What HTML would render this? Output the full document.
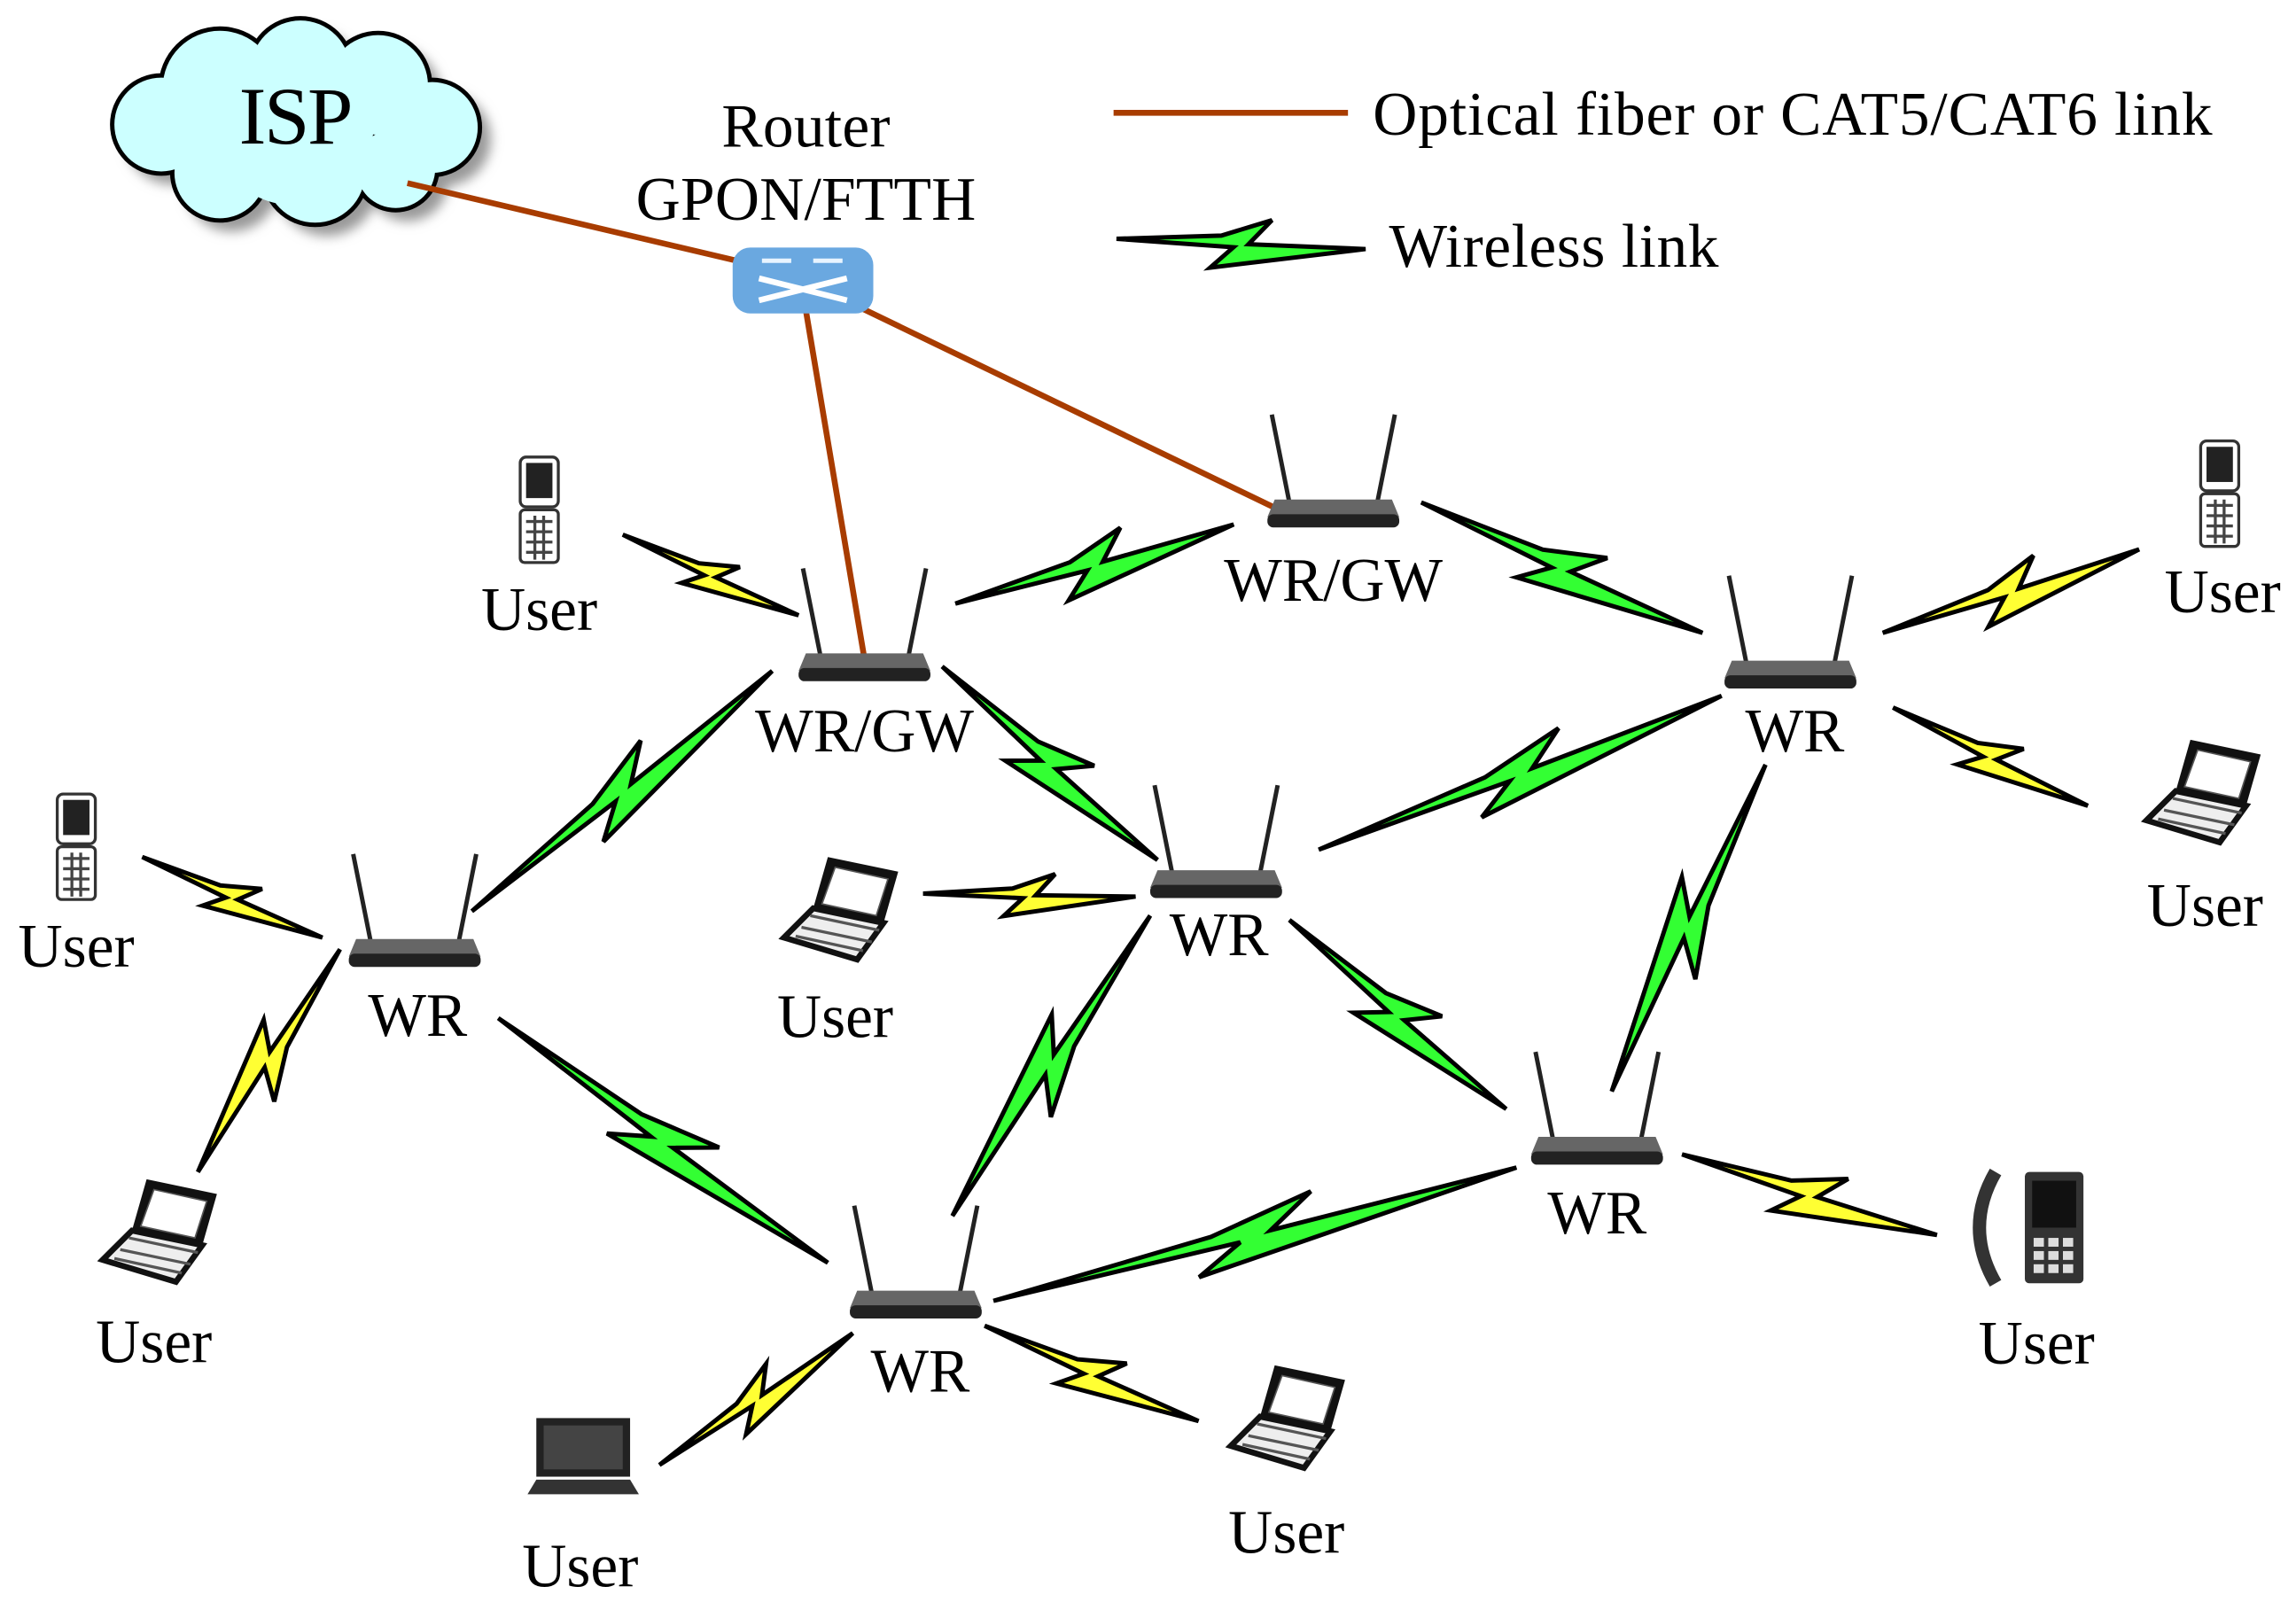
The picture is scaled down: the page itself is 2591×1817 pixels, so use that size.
<!DOCTYPE html>
<html><head><meta charset="utf-8"><style>
html,body{margin:0;padding:0;background:#fff;}
svg{display:block;}
text{font-family:"Liberation Serif","Times New Roman",serif;fill:#000;}
</style></head><body>
<svg id="s" width="2591" height="1817" viewBox="0 0 1567 1099" xmlns="http://www.w3.org/2000/svg" font-family="Liberation Serif, serif">
<defs>
<filter id="sh" x="-20%" y="-20%" width="150%" height="150%"><feGaussianBlur stdDeviation="4"/></filter>
<g id="rt">
 <line x1="-30" y1="-2" x2="-42" y2="-62" stroke="#222" stroke-width="3"/>
 <line x1="30" y1="-2" x2="42" y2="-62" stroke="#222" stroke-width="3"/>
 <path d="M-40,-4 L40,-4 L45,8 L-45,8 Z" fill="#666"/>
 <rect x="-45" y="6" width="90" height="9" rx="4" fill="#222"/>
</g>
<g id="phone">
 <rect x="-13" y="-36" width="26" height="34" rx="4" fill="#fff" stroke="#333" stroke-width="2"/>
 <rect x="-9" y="-32" width="18" height="24" fill="#222"/>
 <rect x="-13" y="0" width="26" height="36" rx="3" fill="#fff" stroke="#333" stroke-width="2"/>
 <path d="M-9,8h18M-9,15h18M-9,22h18M-9,29h18M-3,4v30M3,4v30" stroke="#444" stroke-width="2"/>
</g>
<g id="lap">
 <path d="M-10,-40 L38,-30 L28,5 L-20,-5 Z" fill="#111"/>
 <path d="M-5,-33 L31,-25 L23,0 L-14,-8 Z" fill="#fff" stroke="#555"/>
 <path d="M-20,-5 L28,5 L10,30 L-40,15 Z" fill="#eee" stroke="#111" stroke-width="4"/>
 <path d="M-28,8 L20,18 M-22,0 L25,10 M-32,14 L14,24" stroke="#555" stroke-width="2"/>
</g>
</defs>
<g id="cloud">
 <g filter="url(#sh)" transform="translate(8,8)" fill="#999">
  <circle cx="110" cy="85" r="33"/><circle cx="150" cy="60" r="40"/><circle cx="205" cy="48" r="35"/><circle cx="258" cy="58" r="35"/><circle cx="295" cy="87" r="32"/><circle cx="270" cy="115" r="28"/><circle cx="215" cy="118" r="35"/><circle cx="150" cy="118" r="32"/><circle cx="200" cy="85" r="50"/>
 </g>
 <g fill="#000">
  <circle cx="110" cy="85" r="35"/><circle cx="150" cy="60" r="42"/><circle cx="205" cy="48" r="37"/><circle cx="258" cy="58" r="37"/><circle cx="295" cy="87" r="34"/><circle cx="270" cy="115" r="30"/><circle cx="215" cy="118" r="37"/><circle cx="150" cy="118" r="34"/>
 </g>
 <g fill="#ccffff">
  <circle cx="110" cy="85" r="32"/><circle cx="150" cy="60" r="39"/><circle cx="205" cy="48" r="34"/><circle cx="258" cy="58" r="34"/><circle cx="295" cy="87" r="31"/><circle cx="270" cy="115" r="27"/><circle cx="215" cy="118" r="34"/><circle cx="150" cy="118" r="31"/><circle cx="200" cy="85" r="55"/>
 </g>
 <text x="202" y="98" font-size="56" text-anchor="middle" textLength="78">ISP</text>
</g>
<g stroke="#a83c00" stroke-width="4" fill="none">
 <line x1="278" y1="125" x2="503" y2="178"/>
 <line x1="550" y1="212" x2="590" y2="450"/>
 <line x1="583" y1="208" x2="873" y2="348"/>
 <line x1="760" y1="77" x2="920" y2="77"/>
</g>
<rect x="500" y="169" width="96" height="45" rx="12" fill="#6aa8e0"/>
<path d="M518,190 L578,205 M518,205 L578,190" stroke="#fff" stroke-width="4"/>
<path d="M520,178h20M555,178h20" stroke="#e8f4ff" stroke-width="3"/>
<text x="550" y="100" font-size="42" text-anchor="middle" textLength="115">Router</text>
<text x="550" y="150" font-size="42" text-anchor="middle" textLength="232">GPON/FTTH</text>
<text x="937" y="92" font-size="42" textLength="573">Optical fiber or CAT5/CAT6 link</text>
<text x="948" y="182" font-size="42" textLength="225">Wireless link</text>
<g id="bolts"></g>
<g id="nodes"></g>
</svg>
<script>
var B=[["g",762,163,932,170],["g",652,412,842,358],["g",970,343,1162,432],["g",322,622,527,458],["g",643,455,790,587],["g",900,580,1175,475],["g",1205,522,1100,745],["g",880,628,1028,757],["g",340,695,565,862],["g",785,625,650,830],["g",678,888,1035,797],
["y",425,365,545,420],["y",1285,432,1460,375],["y",1292,483,1425,550],["y",97,585,220,640],["y",630,610,775,612],["y",232,648,135,800],["y",1148,788,1322,843],["y",450,1000,582,910],["y",672,905,818,970]];
var P=[[0,0],[0.42,-0.03],[0.62,-0.1],[0.53,0.0],[1,0],[0.38,0.1],[0.47,0.015]];
var h="";
B.forEach(function(b){var dx=b[3]-b[1],dy=b[4]-b[2];var L=Math.hypot(dx,dy);var ux=dx/L,uy=dy/L,vx=-uy,vy=ux;var s=Math.min(L,190);
var pts=P.map(function(p){var u=p[0]*L,v=p[1]*s;return (b[1]+ux*u+vx*v).toFixed(1)+","+(b[2]+uy*u+vy*v).toFixed(1);}).join(" ");
h+='<polygon points="'+pts+'" fill="'+(b[0]=="g"?"#33ff33":"#ffff33")+'" stroke="#000" stroke-width="3" stroke-linejoin="miter"/>';});
document.getElementById("bolts").innerHTML=h;
var R=[[590,450,"WR/GW",590,513],[910,345,"WR/GW",910,410],[1222,455,"WR",1225,513],[830,598,"WR",832,652],[283,645,"WR",285,707],[1090,780,"WR",1090,842],[625,885,"WR",628,950]];
var n="";
R.forEach(function(r){n+='<use href="#rt" x="'+r[0]+'" y="'+r[1]+'"/><text x="'+r[3]+'" y="'+r[4]+'" font-size="42" text-anchor="middle">'+r[2]+'</text>';});
var U=[["phone",368,348,368,430],["phone",1515,337,1517,418],["phone",52,578,52,660],["lap",575,625,570,708],["lap",1505,545,1505,632],["lap",110,845,105,930],["lap",880,972,878,1060]];
U.forEach(function(u){n+='<use href="#'+u[0]+'" x="'+u[1]+'" y="'+u[2]+'"/><text x="'+u[3]+'" y="'+u[4]+'" font-size="42" text-anchor="middle">User</text>';});
n+='<rect x="366" y="968" width="64" height="40" fill="#222"/><rect x="371" y="973" width="54" height="30" fill="#444"/><path d="M360,1020 L436,1020 L430,1010 L366,1010 Z" fill="#333"/><text x="396" y="1083" font-size="42" text-anchor="middle">User</text>';
n+='<path d="M1362,800 q-22,38 0,76" stroke="#333" stroke-width="9" fill="none"/><rect x="1382" y="800" width="40" height="76" rx="3" fill="#333"/><rect x="1387" y="806" width="30" height="32" fill="#111"/>';
for(var i=0;i<3;i++)for(var j=0;j<3;j++)n+='<rect x="'+(1388+j*10)+'" y="'+(845+i*9)+'" width="7" height="6" fill="#ddd"/>';
n+='<text x="1390" y="931" font-size="42" text-anchor="middle">User</text>';
document.getElementById("nodes").innerHTML=n;
</script>
</body></html>
